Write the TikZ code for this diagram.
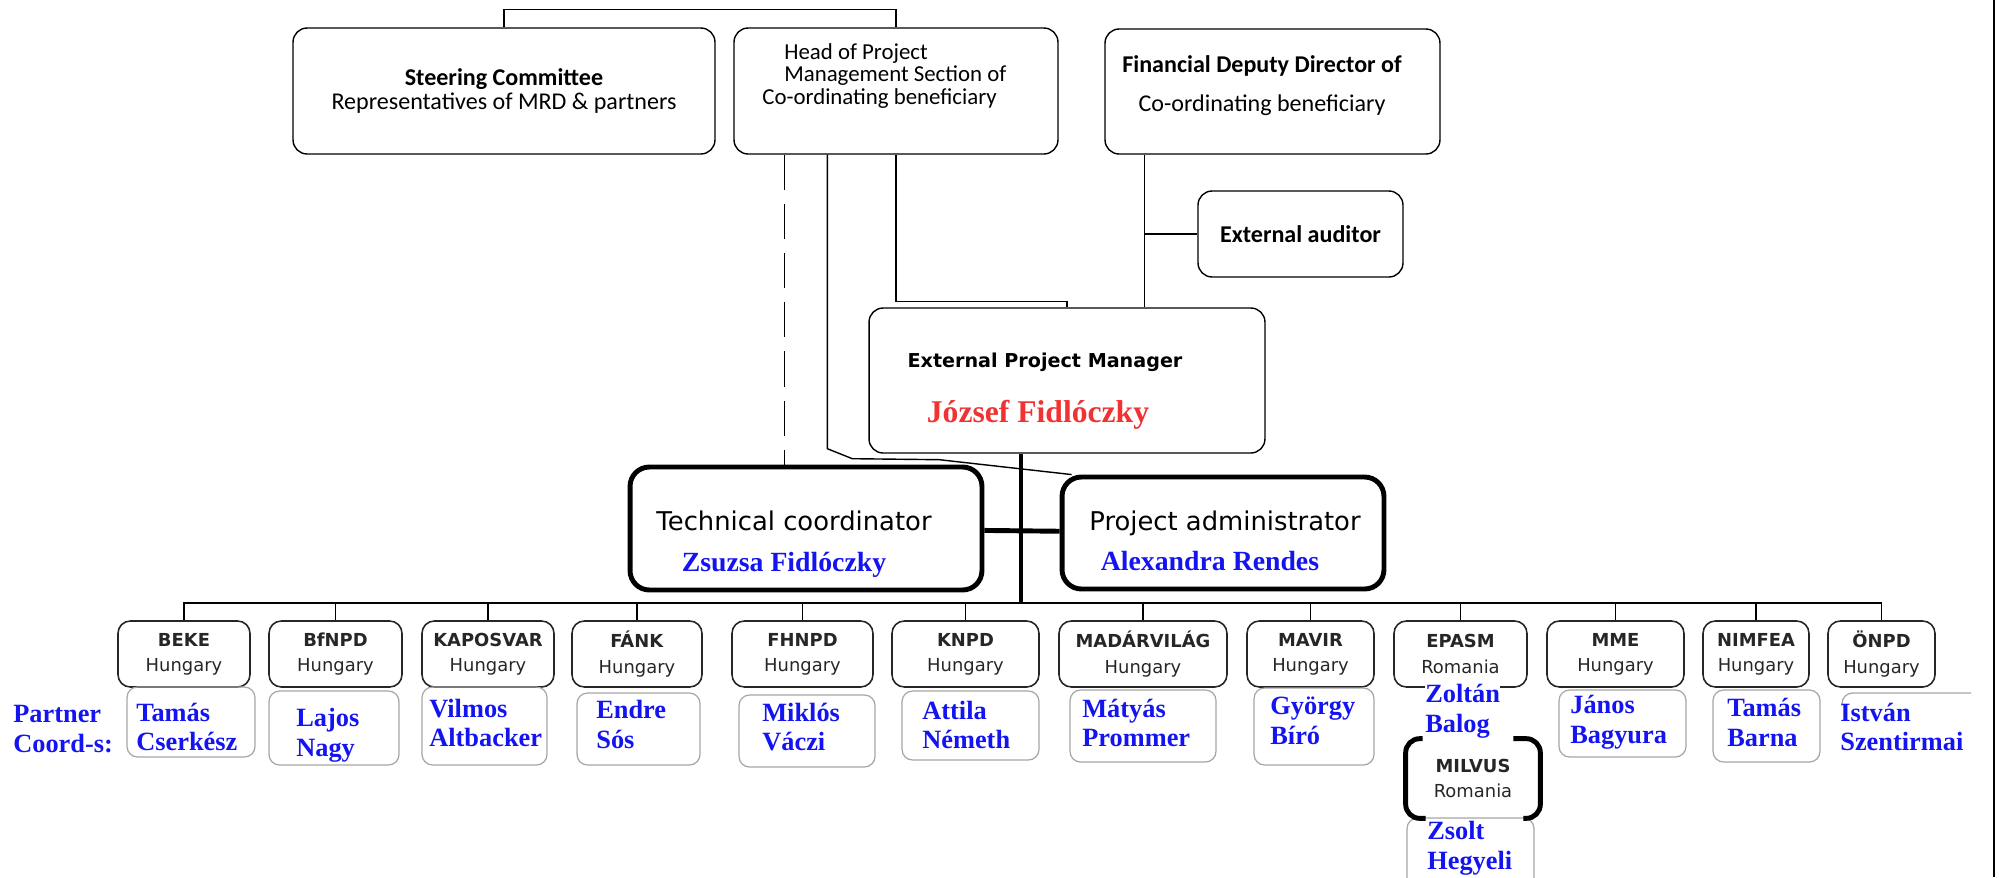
\documentclass[tikz,border=0pt]{standalone}
\usepackage{fontspec}
\setmainfont{Liberation Serif}
\newfontfamily\calfont{Carlito}
\newfontfamily\verfont{DejaVu Sans}
\usetikzlibrary{calc}
\definecolor{nameblue}{RGB}{20,20,240}
\definecolor{namered}{RGB}{240,50,50}

\begin{document}
\begin{tikzpicture}[x=0.02cm, y=-0.02cm]
	\tikzstyle{topbox} = [draw, rounded corners=8pt, line width=0.8pt, inner sep=0pt]
	\tikzstyle{toptext} = [font=\calfont\fontsize{13.7}{13.7}\selectfont, inner sep=0pt]
	\tikzstyle{boldbox} = [draw, rounded corners=11pt, line width=2.8pt, inner sep=0pt]
	\tikzstyle{partner} = [draw=black!85, rounded corners=7pt, line width=0.9pt, inner sep=0pt, align=center, minimum height=1.32cm, text=black!85, font=\verfont\fontsize{10.2}{14.3}\selectfont]
	\tikzstyle{namebox} = [draw=black!35, rounded corners=6pt, line width=0.7pt, inner sep=0pt]
	\tikzstyle{person} = [anchor=west, align=left, inner sep=0pt, text=nameblue, font=\bfseries\fontsize{15}{17}\selectfont]
	\tikzstyle{link} = [line width=0.8pt]
	\tikzstyle{heavy} = [line width=2.8pt]
	\useasboundingbox (0,0) rectangle (1999,877);
	\node[topbox, toptext, minimum width=8.44cm, minimum height=2.52cm, align=center] (steer) at (504,91) {\textbf{Steering Committee}\\Representatives of MRD \& partners};
	\node[topbox, minimum width=6.48cm, minimum height=2.52cm] (head) at (896,91) {};
	\node[toptext, anchor=west, align=left, font=\calfont\fontsize{13}{12.8}\selectfont] (headtext) at (762,76) {\hspace*{12.5pt}Head of Project\\\hspace*{12.5pt}Management Section of\\Co-ordinating beneficiary};
	\node[topbox, minimum width=6.7cm, minimum height=2.5cm] (fin) at (1272.5,91.5) {};
	\node[toptext, align=center] (fintext) at (1262,86) {\textbf{Financial Deputy Director of}\\[8.5pt]Co-ordinating beneficiary};
	\node[topbox, toptext, minimum width=4.1cm, minimum height=1.72cm] (audit) at (1300.5,234) {\textbf{External auditor}};
	\node[topbox, minimum width=7.92cm, minimum height=2.9cm] (epm) at (1067,380.5) {};
	\node[font=\verfont\bfseries\fontsize{10.9}{13}\selectfont] (epmtitle) at (1045,362) {External Project Manager};
	\node[font=\bfseries\fontsize{18}{20}\selectfont, text=namered] (epmname) at (1038,415) {József Fidlóczky};
	\node[boldbox, minimum width=7.04cm, minimum height=2.46cm] (tech) at (806,528.5) {};
	\node[font=\verfont\fontsize{14.7}{17}\selectfont] (techtitle) at (794,521) {Technical coordinator};
	\node[font=\bfseries\fontsize{15.8}{18}\selectfont, text=nameblue] (techname) at (784,565) {Zsuzsa Fidlóczky};
	\node[boldbox, minimum width=6.44cm, minimum height=2.24cm] (admin) at (1223,533) {};
	\node[font=\verfont\fontsize{14.7}{17}\selectfont] (admintitle) at (1225,523) {Project administrator};
	\node[font=\bfseries\fontsize{15.8}{18}\selectfont, text=nameblue] (adminname) at (1210,561) {Alexandra Rendes};
	\coordinate (d1) at ($(head.south west)+(51,0)$);
	\coordinate (d2) at ($(head.south west)+(94,0)$);
	\coordinate (f1) at ($(fin.south west)+(40,0)$);
	\coordinate (bus) at (1021,603);
	\draw[link] (steer.north) -- ++(0,-18) -| (head.north);
	\draw[link, dash pattern=on 20pt off 8pt] (d1) -- (d1 |- tech.north);
	\draw[link] (d2) -- ++(0,294) -- ++(25,10) -- ++(87,1) -- ($(admin.north west)+(12,0)$);
	\draw[link] (head.south) -- ++(0,147) -| (epm.north);
	\draw[link] (f1) -- (f1 |- epm.north);
	\draw[link] (f1 |- audit.west) -- (audit.west);
	\draw[heavy] (epm.south -| bus) -- (bus);
	\draw[heavy] (tech) -- (admin);
	\node[partner, minimum width=2.64cm] (beke) at (184,654) {\textbf{BEKE}\\Hungary};
	\node[partner, minimum width=2.66cm] (bfnpd) at (335.5,654) {\textbf{BfNPD}\\Hungary};
	\node[partner, minimum width=2.64cm] (kaposvar) at (488,654) {\textbf{KAPOSVAR}\\Hungary};
	\node[partner, minimum width=2.6cm] (fank) at (637,654) {\textbf{FÁNK}\\Hungary};
	\node[partner, minimum width=2.82cm] (fhnpd) at (802.5,654) {\textbf{FHNPD}\\Hungary};
	\node[partner, minimum width=2.94cm] (knpd) at (965.5,654) {\textbf{KNPD}\\Hungary};
	\node[partner, minimum width=3.36cm] (madar) at (1143,654) {\textbf{MADÁRVILÁG}\\Hungary};
	\node[partner, minimum width=2.54cm] (mavir) at (1310.5,654) {\textbf{MAVIR}\\Hungary};
	\node[partner, minimum width=2.66cm] (epasm) at (1460.5,654) {\textbf{EPASM}\\Romania};
	\node[partner, minimum width=2.74cm] (mme) at (1615.5,654) {\textbf{MME}\\Hungary};
	\node[partner, minimum width=2.12cm] (nimfea) at (1756,654) {\textbf{NIMFEA}\\Hungary};
	\node[partner, minimum width=2.14cm] (onpd) at (1881.5,654) {\textbf{ÖNPD}\\Hungary};
	\draw[link] (beke.north) -- (beke.north |- bus) -- (onpd.north |- bus) -- (onpd.north);
	\draw[link] (bfnpd.north) -- (bfnpd.north |- bus);
	\draw[link] (kaposvar.north) -- (kaposvar.north |- bus);
	\draw[link] (fank.north) -- (fank.north |- bus);
	\draw[link] (fhnpd.north) -- (fhnpd.north |- bus);
	\draw[link] (knpd.north) -- (knpd.north |- bus);
	\draw[link] (madar.north) -- (madar.north |- bus);
	\draw[link] (mavir.north) -- (mavir.north |- bus);
	\draw[link] (epasm.north) -- (epasm.north |- bus);
	\draw[link] (mme.north) -- (mme.north |- bus);
	\draw[link] (nimfea.north) -- (nimfea.north |- bus);
	\node[namebox, minimum width=2.56cm, minimum height=1.4cm] (cbeke) at (191,722) {};
	\node[namebox, minimum width=2.6cm, minimum height=1.48cm] (cbfnpd) at (334,728) {};
	\node[namebox, minimum width=2.5cm, minimum height=1.56cm] (ckaposvar) at (484.5,726) {};
	\node[namebox, minimum width=2.46cm, minimum height=1.44cm] (cfank) at (638.5,729) {};
	\node[namebox, minimum width=2.72cm, minimum height=1.44cm] (cfhnpd) at (807,731) {};
	\node[namebox, minimum width=2.74cm, minimum height=1.38cm] (cknpd) at (970.5,725.5) {};
	\node[namebox, minimum width=2.92cm, minimum height=1.44cm] (cmadar) at (1143,726) {};
	\node[namebox, minimum width=2.4cm, minimum height=1.54cm] (cmavir) at (1314,726.5) {};
	\node[namebox, minimum width=2.54cm, minimum height=1.34cm] (cmme) at (1622.5,723.5) {};
	\node[namebox, minimum width=2.14cm, minimum height=1.44cm] (cnimfea) at (1766.5,726) {};
	\node[namebox, minimum width=2.54cm, minimum height=1.6cm] (cmilvus) at (1470.5,858) {};
	\draw[namebox] (1842,706) |- (1971,693);
	\node[person] (coordlabel) at (13,729) {Partner\\Coord-s:};
	\node[person] (nbeke) at (136,727) {Tamás\\Cserkész};
	\node[person] (nbfnpd) at (296,735) {Lajos\\Nagy};
	\node[person] (nkaposvar) at (429,723) {Vilmos\\Altbacker};
	\node[person] (nfank) at (596,724.5) {Endre\\Sós};
	\node[person] (nfhnpd) at (762,727) {Miklós\\Váczi};
	\node[person] (nknpd) at (922,725) {Attila\\Németh};
	\node[person] (nmadar) at (1082,723) {Mátyás\\Prommer};
	\node[person] (nmavir) at (1270,720.5) {György\\Bíró};
	\node[person, fill=white] (nepasm) at (1425,711) {Zoltán\\Balog};
	\node[person] (nmme) at (1570,722.5) {János\\Bagyura};
	\node[person] (nnimfea) at (1727,722.5) {Tamás\\Barna};
	\node[person] (nonpd) at (1840,727) {István\\Szentirmai};
	\node[align=center, inner sep=0pt, minimum width=2.68cm, minimum height=1.58cm, text=black!85, font=\verfont\fontsize{10.2}{14.3}\selectfont] (milvus) at (1473,778.5) {\textbf{MILVUS}\\Romania};
	\draw[heavy, rounded corners=8pt] ($(milvus.north west)+(17,0)$) -- (milvus.north west) -- (milvus.south west) -- ($(milvus.south west)+(20,0)$);
	\draw[heavy, rounded corners=8pt] ($(milvus.north east)+(-27,0)$) -- (milvus.north east) -- (milvus.south east) -- ($(milvus.south east)+(-17,0)$);
	\node[person] (nmilvus) at (1427,848) {Zsolt\\Hegyeli};
	\draw[link] (1994,0) -- (1994,877);
\end{tikzpicture}
\end{document}
